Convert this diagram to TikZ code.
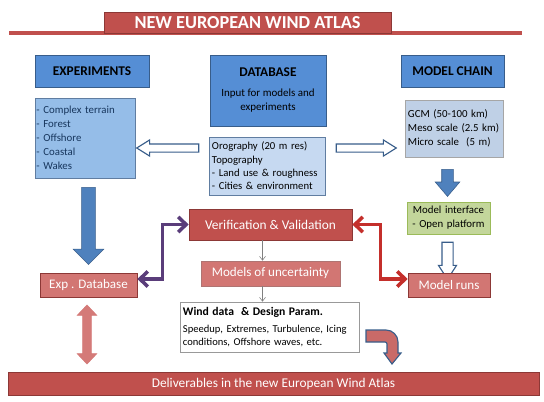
\documentclass[tikz,border=0pt]{standalone}
\usepackage{fontspec}
\setmainfont{Carlito}
\usetikzlibrary{arrows.meta, positioning, shapes.arrows}

\definecolor{hdrblue}{HTML}{558ED5}
\definecolor{hdrline}{HTML}{385D8A}
\definecolor{listblue}{HTML}{95BDE8}
\definecolor{paleblue}{HTML}{C6D9F1}
\definecolor{navytext}{HTML}{17365D}
\definecolor{ifgreen}{HTML}{C3D69B}
\definecolor{ifline}{HTML}{9BBB59}
\definecolor{atlasred}{HTML}{C0504D}
\definecolor{atlasline}{HTML}{8C3836}
\definecolor{softred}{HTML}{D27673}
\definecolor{linkpurple}{HTML}{5A3D7A}
\definecolor{linkred}{HTML}{C42F2B}
\definecolor{arrblue}{HTML}{4F81BD}
\definecolor{pinkarr}{HTML}{D47A78}

\begin{document}
\begin{tikzpicture}[x=0.025cm, y=-0.025cm,
    hdr/.style={rectangle, draw=hdrline, fill=hdrblue, font=\fontsize{9.5}{11}\selectfont\bfseries, inner sep=0pt, minimum height=0.8cm},
    listbox/.style={rectangle, draw=hdrline!80, align=left, font=\fontsize{7.7}{10}\selectfont, inner ysep=0pt},
    redbox/.style={rectangle, draw=atlasline, fill=atlasred, text=white, font=\fontsize{9.5}{11}\selectfont, inner sep=0pt},
    softbox/.style={rectangle, draw=atlasline!70, fill=softred, text=white, font=\fontsize{9.3}{11}\selectfont, inner sep=0pt},
    solidarr/.style={single arrow, draw=hdrline, fill=arrblue, inner sep=0pt, single arrow head indent=0pt},
    openarr/.style={single arrow, draw=hdrline, fill=white, line width=0.8pt, inner sep=0pt, single arrow head indent=0pt},
    vlink/.style={line width=2.5pt, linkpurple, {Straight Barb[length=0.2cm, width=0.38cm]}-{Straight Barb[length=0.2cm, width=0.38cm]}},
    rlink/.style={line width=2.5pt, linkred, {Straight Barb[length=0.2cm, width=0.38cm]}-{Straight Barb[length=0.2cm, width=0.38cm]}},
    thinarr/.style={gray, line width=0.4pt, -{Straight Barb[length=0.1cm, width=0.15cm]}},
]
\useasboundingbox (0,0) rectangle (544,401);

% Title
\coordinate (ruleL) at (9,33);
\coordinate (ruleR) at (522,33);
\draw[atlasred, line width=0.1cm] (ruleL) -- (ruleR);
\node[redbox, font=\fontsize{13}{15}\selectfont\bfseries, minimum width=7.175cm, minimum height=0.525cm] (title) at (247.5,22.5) {NEW EUROPEAN WIND ATLAS};

% Headers
\node[hdr, minimum width=2.85cm] (exph) at (92,71) {EXPERIMENTS};
\node[hdr, minimum width=2.9cm, minimum height=1.775cm] (dbh) at (268,90.5) {};
\node[below=0.2cm of dbh.north, align=center, font=\fontsize{9.5}{11}\selectfont\bfseries] (dbtitle) {DATABASE};
\node[below=0.05cm of dbtitle, align=center, font=\fontsize{7.8}{10}\selectfont] (dbtext) {Input for models and\\experiments};
\node[hdr, minimum width=2.575cm] (mch) at (452.5,71) {MODEL CHAIN};

% Lists
\node[listbox, fill=listblue, text=navytext, text width=2.425cm, inner xsep=0.0375cm, minimum height=2cm] (explist) at (85,138)
  {- Complex terrain\\- Forest\\- Offshore\\- Coastal\\- Wakes};
\node[listbox, fill=paleblue, font=\fontsize{7.6}{9.5}\selectfont, text width=2.75cm, inner xsep=0.075cm, minimum height=1.45cm] (orog) at (267,166)
  {Orography (20 m res)\\Topography\\- Land use \& roughness\\- Cities \& environment};
\node[listbox, fill=paleblue!90!gray, draw=gray!70, text width=2.3cm, inner xsep=0.075cm, minimum height=1.425cm] (mclist) at (454,128.5)
  {GCM (50-100 km)\\Meso scale (2.5 km)\\Micro scale\ \ (5 m)};

% Block arrows
\node[openarr, shape border rotate=180, minimum height=1.55cm, single arrow head extend=0.1cm, single arrow tip angle=64, inner sep=0.0875cm] (arrL) at (171,148) {};
\node[openarr, minimum height=1.5cm, single arrow head extend=0.1cm, single arrow tip angle=64, inner sep=0.0875cm] (arrR) at (363,148) {};
\node[solidarr, shape border rotate=270, minimum height=1.925cm, single arrow head extend=0.2125cm, single arrow tip angle=90, inner sep=0.1625cm] (arrExp) at (88.5,222.5) {};
\node[solidarr, shape border rotate=270, minimum height=0.675cm, single arrow head extend=0.1625cm, single arrow tip angle=81, inner sep=0.1375cm] (arrMc) at (447.5,179.5) {};
\node[openarr, shape border rotate=270, minimum height=0.925cm, single arrow head extend=0.0875cm, single arrow tip angle=66, inner sep=0.125cm] (arrMi) at (447.5,256.5) {};
\node[double arrow, draw=pinkarr, fill=pinkarr, shape border rotate=90, minimum height=1.475cm, double arrow head extend=0.1375cm, double arrow tip angle=87, double arrow head indent=0pt, inner sep=0.1cm] (arrDel) at (87,334.5) {};

% Middle column
\node[listbox, fill=ifgreen, draw=ifline, align=center, text width=2.075cm, inner xsep=0pt, minimum height=0.8cm] (mint) at (448.5,218)
  {Model interface\\- Open platform};
\node[redbox, minimum width=4.075cm, minimum height=0.775cm] (vv) at (270.5,224.5) {Verification \& Validation};
\node[softbox, minimum width=3.475cm, minimum height=0.625cm] (mou) at (270.5,273.5) {Models of uncertainty};
\node[softbox, draw=atlasline, minimum width=2.425cm, minimum height=0.6cm] (expdb) at (88.5,285) {Exp . Database};
\node[softbox, draw=atlasline, minimum width=2.05cm, minimum height=0.6cm] (runs) at (449,285) {Model runs};
\node[listbox, draw=gray!80, fill=white, font=\fontsize{7.5}{9.6}\selectfont, text width=4.325cm, inner xsep=0.075cm, minimum height=1.25cm] (wind) at (269.5,327)
  {\textbf{\fontsize{8.3}{10}\selectfont Wind data\ \ \& Design Param.}\\[2.5pt]Speedup, Extremes, Turbulence, Icing\\conditions, Offshore waves, etc.};
\node[redbox, minimum width=13.275cm, minimum height=0.575cm] (deliv) at (273.5,383.5) {Deliverables in the new European Wind Atlas};

% Links
\draw[vlink] ([yshift=0.15cm]expdb.east) -- ++(0.625cm,0) |- (vv.west);
\draw[rlink] (vv.east) -- ++(0.7cm,0) |- ([yshift=0.15cm]runs.west);
\draw[thinarr] ([xshift=-0.2cm]vv.south) -- ([xshift=-0.2cm]mou.north);
\draw[thinarr] ([xshift=-0.2cm]mou.south) -- ([xshift=-0.2cm]mou.south |- wind.north);

% Bent arrow to deliverables
\filldraw[draw=hdrline, fill=atlasred!85!white, line width=0.8pt]
  (366,330) [rounded corners=0.3cm] -- (398,330) [sharp corners] -- (398,353) -- (401,353) -- (392,364) -- (384,353) -- (387,353) [rounded corners=0.05cm] -- (387,342) [sharp corners] -- (366,342) -- cycle;
\end{tikzpicture}
\end{document}
